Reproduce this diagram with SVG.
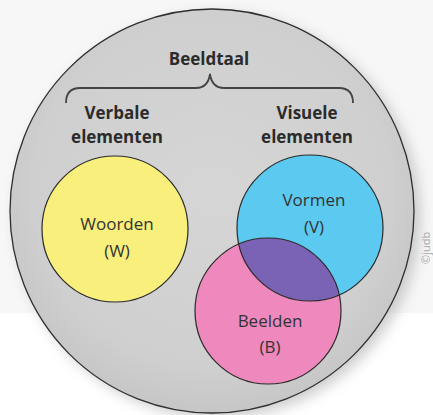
<svg xmlns="http://www.w3.org/2000/svg" width="433" height="415" viewBox="0 0 433 415">
  <style>
    .ring { stroke: #2e2e2e; stroke-width: 1.3; }
    .set { stroke: #2a2a2a; stroke-width: 1.2; }
    .head { font-family: "Open Sans", "Noto Sans", sans-serif; font-weight: bold; font-size: 17px; fill: #2b2b2b; text-anchor: middle; }
    .lbl { font-family: "Open Sans", "Noto Sans", sans-serif; font-size: 17px; fill: #333; text-anchor: middle; }
    .credit { font-family: "Open Sans", "Noto Sans", sans-serif; font-size: 11px; fill: #a8a8a8; }
  </style>
  <defs>
    <filter id="soft" x="-20%" y="-20%" width="140%" height="140%">
      <feGaussianBlur stdDeviation="7"/>
    </filter>
    <radialGradient id="plate" cx="50%" cy="45%" r="55%">
      <stop offset="0" stop-color="#d6d6d6"/>
      <stop offset="0.8" stop-color="#cfcfcf"/>
      <stop offset="1" stop-color="#c6c6c6"/>
    </radialGradient>
    <clipPath id="pinkClip">
      <circle cx="268" cy="311" r="73"/>
    </clipPath>
  </defs>

  <!-- page background -->
  <rect x="0" y="0" width="433" height="415" fill="#ffffff"/>
  <rect x="0" y="0" width="433" height="313" fill="#f7f7f7"/>

  <!-- outer set: Beeldtaal -->
  <g id="beeldtaal">
    <circle cx="218" cy="216" r="202" fill="#9a9a9a" opacity="0.5" filter="url(#soft)"/>
    <circle cx="212" cy="211" r="202" fill="url(#plate)" class="ring"/>
    <text class="head" x="209" y="65">Beeldtaal</text>
  </g>

  <!-- brace grouping the two kinds of elements -->
  <g id="connectors">
    <path d="M66,103 Q66,88 80,88 L196,88 Q208,88 210,74 Q212,88 224,88 L339,88 Q353,88 353,103" fill="none" stroke="#444" stroke-width="1.8"/>
  </g>

  <g id="verbaal">
    <text class="head" x="117" y="119">Verbale</text>
    <text class="head" x="117" y="143">elementen</text>
  </g>
  <g id="visueel">
    <text class="head" x="307" y="119">Visuele</text>
    <text class="head" x="307" y="143">elementen</text>
  </g>

  <!-- Woorden -->
  <g id="woorden">
    <circle cx="115" cy="229" r="73" fill="#f8ef7c" class="set"/>
    <text class="lbl" x="117" y="230">Woorden</text>
    <text class="lbl" x="117" y="257">(W)</text>
  </g>

  <!-- Vormen -->
  <g id="vormen">
    <circle cx="310" cy="228" r="73" fill="#5ccaf0" class="set"/>
  </g>

  <!-- Beelden, with the overlap tinted purple -->
  <g id="beelden">
    <circle cx="268" cy="311" r="73" fill="#ef89bd"/>
    <circle cx="310" cy="228" r="73" fill="#7a62b4" clip-path="url(#pinkClip)"/>
    <circle cx="268" cy="311" r="73" fill="none" class="set"/>
    <circle cx="310" cy="228" r="73" fill="none" class="set" clip-path="url(#pinkClip)"/>
    <text class="lbl" x="270" y="327">Beelden</text>
    <text class="lbl" x="270" y="353">(B)</text>
  </g>

  <g id="vormen-label">
    <text class="lbl" x="314" y="206">Vormen</text>
    <text class="lbl" x="314" y="233">(V)</text>
  </g>

  <text class="credit" transform="translate(430,264) rotate(-90)">©judb</text>
</svg>
